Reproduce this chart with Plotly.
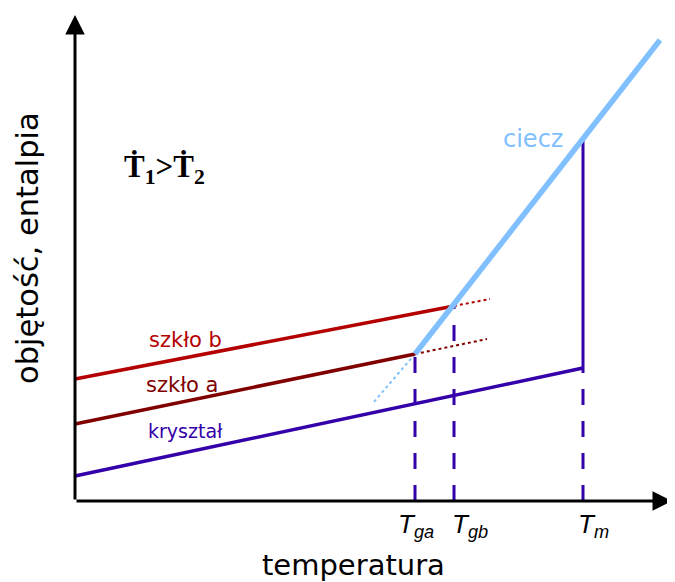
import plotly.graph_objects as go

# data in chart units (origin at axes crossing)
T_crystal = [0, 508]
V_crystal = [25, 133]
T_glass_a = [0, 340]
V_glass_a = [77, 147]
T_glass_b = [0, 379]
V_glass_b = [122, 195]
T_liquid = [340, 585]
V_liquid = [147, 461]
T_ext_a = [340, 412]
V_ext_a = [147, 162]
T_ext_b = [379, 415]
V_ext_b = [195, 202]
T_ext_liq = [340, 298]
V_ext_liq = [147, 98]
T_ga, T_gb, T_m = 340, 379, 508
V_ga, V_gb, V_m_sol, V_m_liq = 147, 195, 133, 362

C_CRYST = "#3300aa"
C_A = "#800000"
C_B = "#b40000"
C_LIQ = "#80c0ff"
FONT = "DejaVu Sans, sans-serif"
FONT_T = "Liberation Sans, Arial, sans-serif"

fig = go.Figure()

def line(x, y, color, width, dash="solid"):
    fig.add_trace(go.Scatter(x=x, y=y, mode="lines", showlegend=False, hoverinfo="skip",
                             line=dict(color=color, width=width, dash=dash)))

# dotted extensions
line(T_ext_liq, V_ext_liq, C_LIQ, 2, "dot")
line(T_ext_a, V_ext_a, C_A, 2, "dot")
line(T_ext_b, V_ext_b, C_B, 2, "dot")
# dashed verticals
line([T_ga, T_ga], [0, V_ga], C_CRYST, 3, "16px,16px")
line([T_gb, T_gb], [0, V_gb], C_CRYST, 3, "16px,16px")
line([T_m, T_m], [0, V_m_sol], C_CRYST, 3, "16px,16px")
line([T_m, T_m], [V_m_sol, V_m_liq], C_CRYST, 3)
# main lines
line(T_crystal, V_crystal, C_CRYST, 3.5)
line(T_glass_a, V_glass_a, C_A, 3.5)
line(T_glass_b, V_glass_b, C_B, 3.5)
line(T_liquid, V_liquid, C_LIQ, 5.5)

ann = []
# axes arrows
ann.append(dict(x=0, y=486, ax=0, ay=0, xref="x", yref="y", axref="x", ayref="y",
                showarrow=True, arrowhead=2, arrowsize=1.3, arrowwidth=3, arrowcolor="black", text=""))
ann.append(dict(x=597, y=0, ax=0, ay=0, xref="x", yref="y", axref="x", ayref="y",
                showarrow=True, arrowhead=2, arrowsize=1.3, arrowwidth=3, arrowcolor="black", text=""))

def txt(x, y, s, size, color="black", family=FONT, angle=0):
    ann.append(dict(x=x, y=y, xref="x", yref="y", text=s, showarrow=False,
                    font=dict(size=size, color=color, family=family), textangle=angle,
                    xanchor="center", yanchor="middle"))

txt(458, 362, "ciecz", 24, C_LIQ)
txt(110, 161, "szkło b", 21, C_B)
txt(107, 116, "szkło a", 21, C_A)
txt(110, 70, "kryształ", 19, C_CRYST)
txt(89, 332, "<b>Ṫ<sub>1</sub>&gt;Ṫ<sub>2</sub></b>", 31, "black", "Liberation Serif, Times New Roman, serif")
txt(-48, 253, "objętość, entalpia", 30.5, "black", FONT, -90)
txt(278, -64, "temperatura", 29)
txt(341, -24, "<i>T</i><sub><i>ga</i></sub>", 26, "black", FONT_T)
txt(395, -24, "<i>T</i><sub><i>gb</i></sub>", 26, "black", FONT_T)
txt(518, -24, "<i>T</i><sub><i>m</i></sub>", 26, "black", FONT_T)

# the page body has an 8px margin, so the axis ranges are offset by 8px to
# place the drawing where it sits in the reference
fig.update_layout(
    width=675, height=582, margin=dict(l=0, r=0, t=0, b=0, autoexpand=False),
    plot_bgcolor="white", paper_bgcolor="white",
    xaxis=dict(range=[-67, 608], visible=False, fixedrange=True),
    yaxis=dict(range=[-89, 493], visible=False, fixedrange=True),
    annotations=ann,
)
fig.write_html("out.html")
